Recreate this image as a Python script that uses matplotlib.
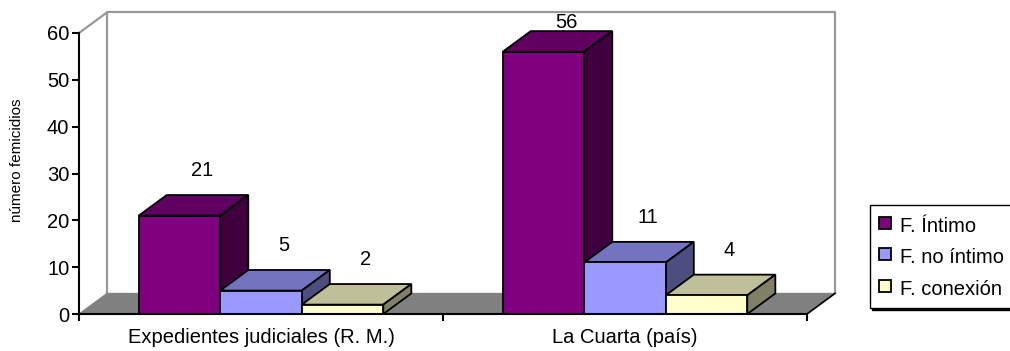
import matplotlib
matplotlib.use('Agg')
import matplotlib.pyplot as plt
from matplotlib.patches import Polygon
from matplotlib.lines import Line2D

# Data
categories = ["Expedientes judiciales (R. M.)", "La Cuarta (país)"]
series_names = ["F. Íntimo", "F. no íntimo", "F. conexión"]
intimo = [21, 56]
no_intimo = [5, 11]
conexion = [2, 4]
y_ticks = [0, 10, 20, 30, 40, 50, 60]
y_label = "número femicidios"

series = [intimo, no_intimo, conexion]

# Excel-like 3D shading: front / top / side
front_colors = ["#800080", "#9999FF", "#FFFFCC"]
top_colors = ["#600060", "#7373BF", "#BFBF99"]
side_colors = ["#400040", "#4D4D80", "#808066"]

plt.rcParams['font.family'] = ['Liberation Sans', 'DejaVu Sans']
FS = 14.5

W = 0.224      # bar width (category = 1 unit)
DX = 0.077     # depth offset in x (data units)
DY = 4.4       # depth offset in y (data units)
YMAX = 60

fig = plt.figure(figsize=(10.1, 3.51), dpi=100)
ax = fig.add_axes([79 / 1010, 37 / 351, 728 / 1010, 281 / 351])
ax.set_xlim(0, len(categories))
ax.set_ylim(0, YMAX)

# back wall outline and floor
wall_col = "#999999"
n = len(categories)
ax.plot([0, DX], [YMAX, YMAX + DY], color=wall_col, lw=1.6, clip_on=False, zorder=1)
ax.plot([DX, DX, n + DX, n + DX], [DY, YMAX + DY, YMAX + DY, DY],
        color=wall_col, lw=1.6, clip_on=False, zorder=1)
ax.add_patch(Polygon([(0, 0), (n, 0), (n + DX, DY), (DX, DY)], closed=True,
                     facecolor="#808080", edgecolor="#808080", lw=0.8, clip_on=False, zorder=2))
ax.plot([n, n + DX], [0, DY], color="black", lw=1.2, clip_on=False, zorder=2)

# bars
z = 3
for j in range(n):
    for i, vals in enumerate(series):
        v = vals[j]
        x0 = j + 0.5 - 1.5 * W + i * W
        top = [(x0, v), (x0 + W, v), (x0 + W + DX, v + DY), (x0 + DX, v + DY)]
        side = [(x0 + W, 0), (x0 + W + DX, DY), (x0 + W + DX, v + DY), (x0 + W, v)]
        front = [(x0, 0), (x0 + W, 0), (x0 + W, v), (x0, v)]
        for pts, col in ((top, top_colors[i]), (side, side_colors[i]), (front, front_colors[i])):
            ax.add_patch(Polygon(pts, closed=True, facecolor=col, edgecolor="black",
                                 lw=1.3, joinstyle="miter", clip_on=False, zorder=z))
            z += 1
        ax.text(x0 + W / 2 + 0.063, min(v + 9.6, 62.2), str(v), ha="center", va="center",
                fontsize=FS, zorder=100, clip_on=False)

# axes styling
for s in ("top", "right"):
    ax.spines[s].set_visible(False)
ax.spines["left"].set_linewidth(1.5)
ax.spines["bottom"].set_linewidth(1.5)
ax.spines["left"].set_zorder(50)
ax.spines["bottom"].set_zorder(50)
ax.set_yticks(y_ticks)
ax.set_yticklabels([str(t) for t in y_ticks])
ax.tick_params(axis="y", length=5, width=1.5, pad=2, labelsize=FS)
ax.set_xticks(range(n + 1))
ax.set_xticklabels([""] * (n + 1))
ax.tick_params(axis="x", which="major", length=5, width=1.5)
ax.set_xticks([j + 0.5 for j in range(n)], minor=True)
ax.set_xticklabels(categories, minor=True)
ax.tick_params(axis="x", which="minor", length=0, pad=10, labelsize=FS)

fig.text(17 / 1010, 1 - 160 / 351, y_label, rotation=90, ha="center", va="center", fontsize=11)

handles = [Line2D([], [], linestyle="none", marker="s", markersize=8, markerfacecolor=front_colors[i],
                  markeredgecolor="black", markeredgewidth=1.3, label=series_names[i])
           for i in range(len(series_names))]
fig.legend(handles=handles, loc="upper left", bbox_to_anchor=(870 / 1010, 1 - 205 / 351),
           frameon=True, fancybox=False, edgecolor="black", framealpha=1, fontsize=FS,
           handlelength=0.6, handleheight=1.3, handletextpad=0.45, labelspacing=0.47,
           borderpad=0.45, borderaxespad=0,
           shadow={'ox': 1.5, 'oy': -1.5, 'facecolor': 'black', 'edgecolor': 'black', 'alpha': 1})

fig.savefig("out.png", dpi=100)
